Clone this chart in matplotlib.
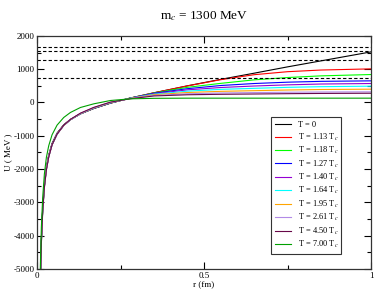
import matplotlib
matplotlib.use('Agg')
import matplotlib.pyplot as plt
from matplotlib.ticker import MultipleLocator, FixedLocator, FixedFormatter

plt.rcParams['font.family'] = ['Liberation Serif', 'DejaVu Serif']
plt.rcParams['mathtext.fontset'] = 'stix'
plt.rcParams['axes.unicode_minus'] = False

# sampled radii (fm)
r = [0.008, 0.01, 0.013, 0.017, 0.022, 0.028, 0.035, 0.045, 0.06, 0.08, 0.1,
     0.13, 0.17, 0.22, 0.28, 0.35, 0.45, 0.55, 0.65, 0.75, 0.85, 1.0]

# potentials (MeV)
u_t0 = [-6570, -5280, -4090, -3160, -2470, -1950, -1580, -1230, -920, -670, -510,
        -340, -180, -20, 135, 290, 500, 695, 880, 1070, 1250, 1520]
u_113 = [-6600, -5310, -4120, -3190, -2490, -1970, -1600, -1250, -935, -680, -515,
         -342, -178, -18, 136, 292, 498, 685, 835, 925, 975, 1010]
u_118 = [-6620, -5330, -4140, -3200, -2500, -1980, -1610, -1255, -940, -683, -515,
         -340, -175, -15, 134, 285, 455, 575, 680, 750, 800, 840]
u_127 = [-6640, -5350, -4150, -3210, -2510, -1990, -1615, -1260, -945, -686, -517,
         -340, -172, -12, 132, 275, 415, 510, 570, 610, 635, 650]
u_140 = [-6660, -5370, -4170, -3220, -2520, -2000, -1620, -1265, -948, -688, -518,
         -338, -168, -8, 130, 262, 380, 450, 495, 530, 555, 570]
u_164 = [-6680, -5390, -4180, -3230, -2530, -2005, -1625, -1268, -950, -690, -518,
         -336, -164, -4, 127, 248, 340, 395, 425, 455, 475, 490]
u_195 = [-6700, -5400, -4190, -3240, -2535, -2010, -1630, -1270, -952, -690, -517,
         -333, -160, 0, 123, 232, 300, 335, 355, 375, 390, 400]
u_261 = [-6730, -5430, -4210, -3260, -2550, -2020, -1635, -1272, -952, -688, -514,
         -328, -154, 6, 118, 212, 262, 285, 298, 308, 315, 320]
u_450 = [-6760, -5460, -4240, -3280, -2560, -2030, -1640, -1272, -950, -684, -508,
         -320, -146, 12, 113, 196, 232, 246, 255, 265, 272, 278]
u_700 = [-6100, -4900, -3750, -2850, -2150, -1650, -1300, -970, -680, -450, -300,
         -150, -40, 60, 110, 125, 130, 130, 130, 130, 130, 130]

labels = ['T = 0', 'T = 1.13 T$_c$', 'T = 1.18 T$_c$', 'T = 1.27 T$_c$',
          'T = 1.40 T$_c$', 'T = 1.64 T$_c$', 'T = 1.95 T$_c$', 'T = 2.61 T$_c$',
          'T = 4.50 T$_c$', 'T = 7.00 T$_c$']
curves = [u_t0, u_113, u_118, u_127, u_140, u_164, u_195, u_261, u_450, u_700]
colors = ['black', 'red', '#00ff00', 'blue', '#9400d3', 'cyan', 'orange',
          '#b28ae6', '#670748', '#00a000']

# horizontal thresholds (MeV)
thresholds = [1680, 1560, 1270, 730]

fig = plt.figure(figsize=(3.74, 2.92), dpi=100)
ax = fig.add_axes([0.099, 0.079, 0.893, 0.798])

for u, c, lab in zip(curves, colors, labels):
    ax.plot(r, u, color=c, lw=0.8, label=lab)

for t in thresholds:
    ax.axhline(t, color='black', lw=0.8, ls=(0, (3, 2)))

ax.set_xlim(0, 1)
ax.set_ylim(-5000, 2000)
ax.xaxis.set_major_locator(FixedLocator([0, 0.5, 1]))
ax.xaxis.set_major_formatter(FixedFormatter(['0', '0.5', '1']))
ax.xaxis.set_minor_locator(MultipleLocator(0.25))
ax.yaxis.set_major_locator(MultipleLocator(1000))
ax.yaxis.set_minor_locator(MultipleLocator(500))
ax.tick_params(which='both', direction='in', top=True, right=True,
               labelsize=6.5, width=0.8, pad=2)
ax.tick_params(which='major', length=5)
ax.tick_params(which='minor', length=3)
for s in ax.spines.values():
    s.set_linewidth(0.9)
    s.set_color('#333333')

ax.set_xlabel('r (fm)', fontsize=6.5, labelpad=1)
ax.set_ylabel('U ( MeV )', fontsize=6.5, labelpad=1)
ax.set_title('m$_c$ = 1300 MeV', fontsize=9.5, pad=12)

leg = ax.legend(loc='lower left', bbox_to_anchor=(0.70, 0.064, 0.21, 0.58),
                mode='expand', fontsize=6, handlelength=2.0, handletextpad=0.8,
                labelspacing=0.27, borderpad=0.45, fancybox=False, framealpha=1,
                edgecolor='#333333', borderaxespad=0)
leg.get_frame().set_linewidth(0.8)

plt.savefig('out.png', dpi=100)
